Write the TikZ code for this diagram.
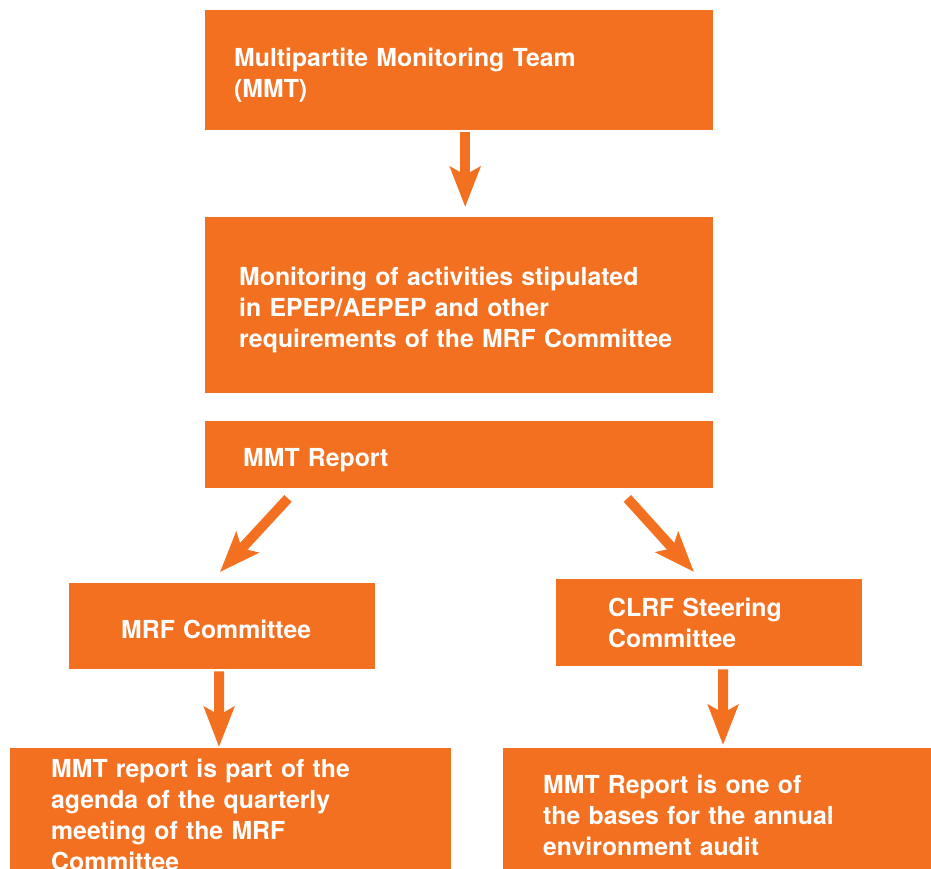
\documentclass[tikz,border=0pt]{standalone}
\usepackage{fontspec}
\setmainfont{TeX Gyre Heros}
\usetikzlibrary{arrows.meta}
\definecolor{mmtorange}{HTML}{F37021}
\tikzset{
    box/.style={fill=mmtorange, text=white, anchor=north west, align=left,
        font=\bfseries\fontsize{24.8}{31}\selectfont, inner ysep=0pt},
    % extra height on the first line, pushes text down a little
    lowered/.style={execute at begin node={\rule{0pt}{#1}}},
    flow/.style={draw=mmtorange, line width=10pt,
        -{Stealth[length=40pt, width=30pt, inset=8pt]}}
}
\begin{document}
\begin{tikzpicture}[x=1pt, y=-1pt]
    \useasboundingbox[fill=white] (0,0) rectangle (931,868);

    % Boxes
    \node[box, lowered=28pt, minimum width=508pt, minimum height=120pt, inner xsep=29pt, text width=450pt]
        (mmt) at (205,10) {Multipartite Monitoring Team\\(MMT)};
    \node[box, lowered=28pt, minimum width=508pt, minimum height=176pt, inner xsep=34pt, text width=440pt]
        (monitor) at (205,217) {Monitoring of activities stipulated\\in EPEP/AEPEP and other\\requirements of the MRF Committee};
    \node[box, lowered=28pt, minimum width=508pt, minimum height=67pt, inner xsep=38pt, text width=432pt]
        (report) at (205,421) {MMT Report};
    \node[box, lowered=24pt, minimum width=306pt, minimum height=86pt, inner xsep=52pt, text width=202pt]
        (mrf) at (69,583) {MRF Committee};
    \node[box, minimum width=306pt, minimum height=87pt, inner xsep=52pt, text width=202pt]
        (clrf) at (556,579) {CLRF Steering\\Committee};
    \node[box, minimum width=441pt, minimum height=134pt, inner xsep=41pt, text width=359pt]
        (agenda) at (10,748) {MMT report is part of the\\agenda of the quarterly\\meeting of the MRF\\Committee};
    \node[box, minimum width=428pt, minimum height=134pt, inner xsep=40pt, text width=348pt]
        (audit) at (503,748) {MMT Report is one of\\the bases for the annual\\environment audit};

    % Arrows
    \draw[flow] ([xshift=6pt, yshift=-2pt]mmt.south) -- ([xshift=6pt, yshift=10pt]monitor.north);
    \draw[flow] ([xshift=83pt, yshift=-10pt]report.south west) -- ([xshift=151pt, yshift=11pt]mrf.north west);
    \draw[flow] ([xshift=-86pt, yshift=-10pt]report.south east) -- ([xshift=138pt, yshift=7pt]clrf.north west);
    \draw[flow] ([xshift=-3pt, yshift=-2pt]mrf.south) -- ([xshift=209pt, yshift=1pt]agenda.north west);
    \draw[flow] ([xshift=14pt, yshift=-3pt]clrf.south) -- ([xshift=220pt, yshift=3pt]audit.north west);
\end{tikzpicture}
\end{document}
